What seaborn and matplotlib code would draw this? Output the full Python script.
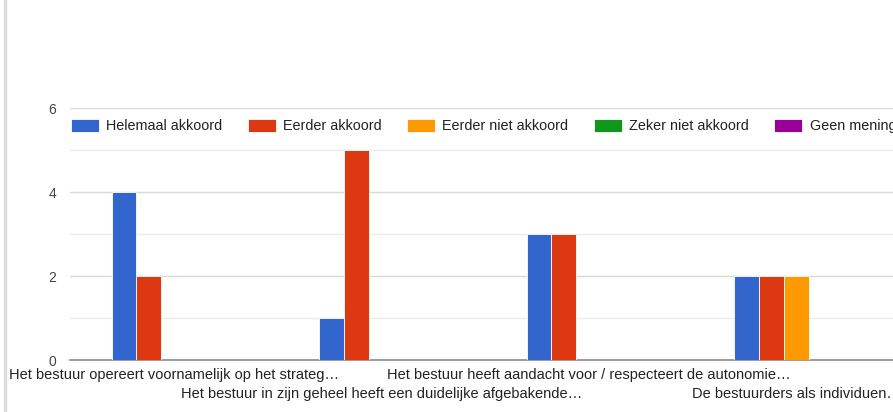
import matplotlib
matplotlib.use("Agg")
import matplotlib.pyplot as plt
from matplotlib.lines import Line2D
import seaborn as sns
import pandas as pd

# Survey statements (labels as shown, truncated)
categories = [
    "Het bestuur opereert voornamelijk op het strateg\u2026",
    "Het bestuur in zijn geheel heeft een duidelijke afgebakende\u2026",
    "Het bestuur heeft aandacht voor / respecteert de autonomie\u2026",
    "De bestuurders als individuen\u2026",
]

# Answer options and number of responses per statement
answers = ["Helemaal akkoord", "Eerder akkoord", "Eerder niet akkoord",
           "Zeker niet akkoord", "Geen mening"]
helemaal_akkoord = [4, 1, 3, 2]
eerder_akkoord = [2, 5, 3, 2]
eerder_niet_akkoord = [0, 0, 0, 2]
zeker_niet_akkoord = [0, 0, 0, 0]
geen_mening = [0, 0, 0, 0]

colors = ["#3366CC", "#DC3912", "#FF9900", "#109618", "#990099"]
y_ticks = [0, 2, 4, 6]

series = [helemaal_akkoord, eerder_akkoord, eerder_niet_akkoord,
          zeker_niet_akkoord, geen_mening]
rows = []
for ans, vals in zip(answers, series):
    for cat, v in zip(categories, vals):
        rows.append({"statement": cat, "answer": ans, "count": v})
df = pd.DataFrame(rows)

sns.set_theme(style="white")
plt.rcParams["font.family"] = ["Liberation Sans", "DejaVu Sans"]

fig = plt.figure(figsize=(8.93, 4.12), dpi=100)
W, H = 893, 412
ax_left, ax_right = 70, 900
ax_top, ax_bottom = 108, 360
ax = fig.add_axes([ax_left / W, (H - ax_bottom) / H,
                   (ax_right - ax_left) / W, (ax_bottom - ax_top) / H])

sns.barplot(data=df, x="statement", y="count", hue="answer",
            hue_order=answers, order=categories, palette=colors,
            saturation=1, width=0.6, ax=ax, errorbar=None,
            edgecolor="white", linewidth=0.6, legend=True, zorder=3)

ax.set_xlim(-0.5, 3.5)
ax.set_ylim(0, 6)
ax.set_yticks(y_ticks)
ax.set_yticks([1, 3, 5], minor=True)
ax.grid(axis="y", which="major", color="#d9d9d9", linewidth=1, zorder=0)
ax.grid(axis="y", which="minor", color="#ebebeb", linewidth=1, zorder=0)
ax.grid(axis="x", visible=False)
ax.set_axisbelow(True)
for side in ["top", "right", "left"]:
    ax.spines[side].set_visible(False)
ax.spines["bottom"].set_color("#8a8a8a")
ax.spines["bottom"].set_linewidth(1.2)

ax.set_xlabel("")
ax.set_ylabel("")
# Category labels alternate between two rows: even ones on the major
# ticks, odd ones on minor ticks pushed further down.
idx = list(range(len(categories)))
ax.set_xticks(idx[0::2], labels=categories[0::2])
ax.set_xticks(idx[1::2], labels=categories[1::2], minor=True)
for lab in ax.get_xticklabels(which="both"):
    lab.set_fontsize(10.5)
    lab.set_color("#222222")
ax.tick_params(axis="x", which="major", length=0, pad=6)
ax.tick_params(axis="x", which="minor", length=0, pad=19.5)
ax.tick_params(axis="y", which="both", length=0, pad=10,
               labelsize=10, labelcolor="#444444")

handles, lbls = ax.get_legend_handles_labels()
ax.legend(handles, lbls, ncol=5, loc="center left",
          bbox_to_anchor=(71 / W, (H - 126) / H),
          bbox_transform=fig.transFigure, frameon=False,
          fontsize=10.4, handlelength=1.95, handleheight=1.0,
          handletextpad=0.5, columnspacing=1.75, borderpad=0,
          borderaxespad=0, labelcolor="#222222")

# Thin grey border at the left edge of the card
fig.add_artist(Line2D([5 / W, 5 / W], [0, 1], transform=fig.transFigure,
                      color="#dcdcdc", linewidth=2.5))

fig.savefig("out.png", dpi=100)
